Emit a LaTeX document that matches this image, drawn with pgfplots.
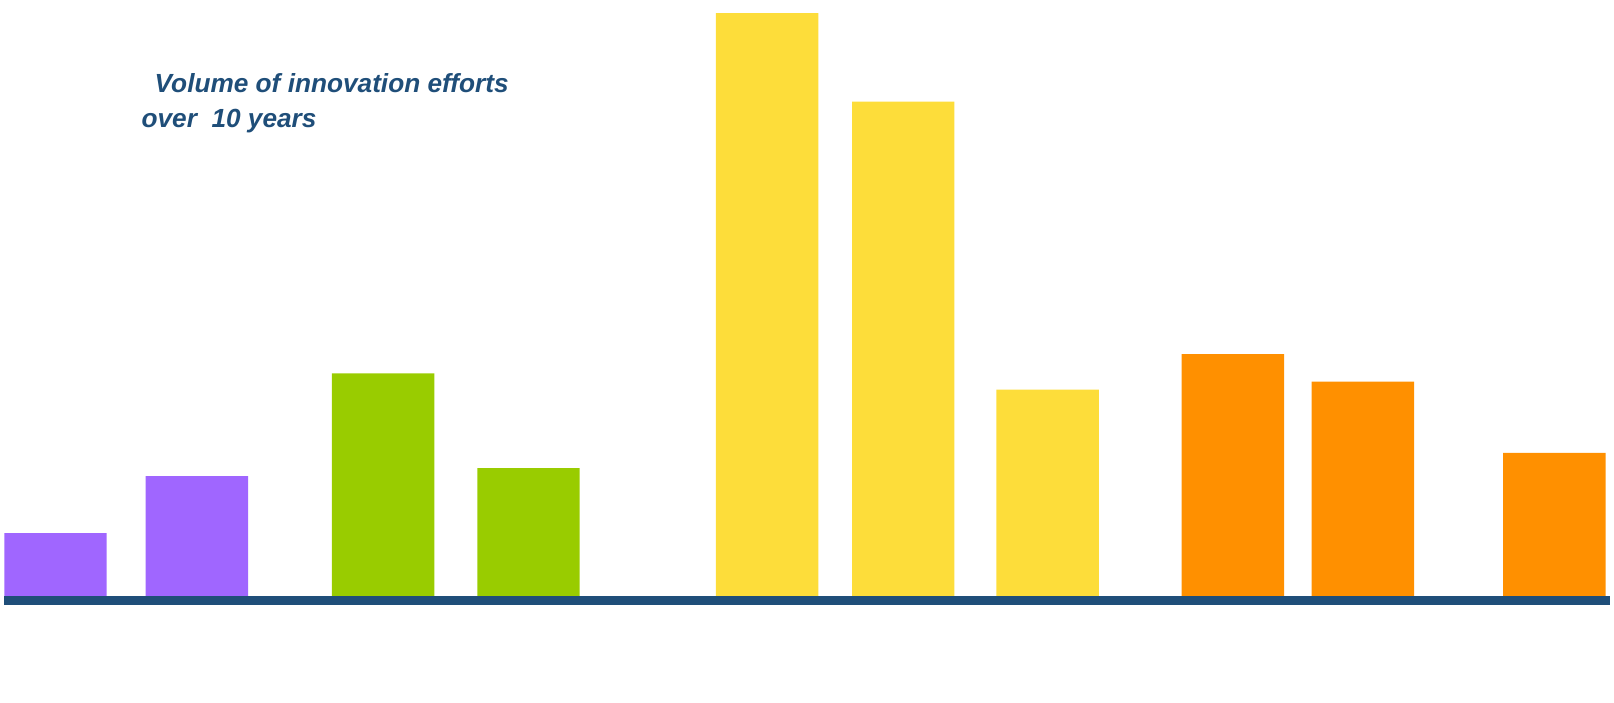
\documentclass[border=0pt]{standalone}
\usepackage{pgfplots}
\pgfplotsset{compat=1.18}
\usepackage{fontspec}
\setmainfont{Liberation Sans}
\definecolor{cpurple}{HTML}{A066FF}
\definecolor{cgreen}{HTML}{99CC00}
\definecolor{cyellow}{HTML}{FDDD3A}
\definecolor{corange}{HTML}{FF9000}
\definecolor{cblue}{HTML}{1F4E79}
\begin{document}
\begin{tikzpicture}
\begin{axis}[
  width=16.14cm, height=7.06cm, scale only axis,
  xmin=0, xmax=1568, ymin=-100, ymax=590,
  axis lines=none, ticks=none,
  ybar, bar width=100, bar shift=0pt,
  clip=false,
]
\path (rel axis cs:0,0) rectangle (rel axis cs:1,1);
\addplot[fill=cpurple, draw=none] coordinates {(50,66) (188,122)};
\addplot[fill=cgreen, draw=none] coordinates {(370,223) (512,130)};
\addplot[fill=cyellow, draw=none] coordinates {(745,577) (878,490) (1019,207)};
\addplot[fill=corange, draw=none] coordinates {(1200,242) (1327,215) (1514,145)};
\draw[cblue, line width=2.5pt] (axis cs:0,0) -- (axis cs:1568,0);
\node[anchor=north west, text=cblue, font=\fontsize{7.5}{10}\selectfont\bfseries\itshape, align=left]
  at (axis cs:122,530) {\hspace{0.5em}Volume of innovation efforts\\over\ \ 10 years};
\end{axis}
\end{tikzpicture}
\end{document}
